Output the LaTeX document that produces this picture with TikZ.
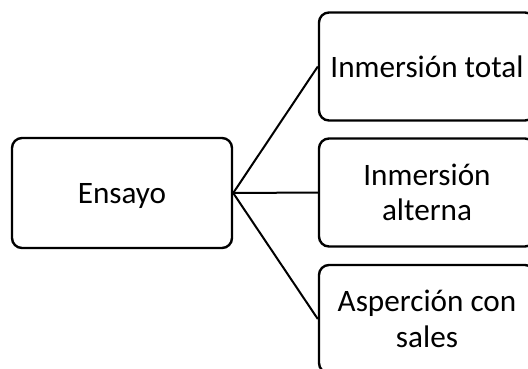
\documentclass[tikz,border=0pt]{standalone}
\usepackage{fontspec}
\setmainfont{Carlito}
\begin{document}
\begin{tikzpicture}[x=1pt,y=-1pt,
  box/.style={draw=black, line width=2.4pt, rounded corners=10pt, fill=white,
    align=center, inner sep=0pt, font=\fontsize{31.2}{35.5}\selectfont},
  leftbox/.style={box, minimum width=220pt, minimum height=110pt},
  rightbox/.style={box, minimum width=216pt, minimum height=108pt},
  link/.style={draw=black, line width=2pt}]
  \useasboundingbox (0,0) rectangle (528,368);
  \clip (0,0) rectangle (528,368);
  % central topic
  \node[leftbox, text depth=0pt] (ensayo) at (122,193) {Ensayo};
  % branches
  \node[rightbox] (total) at (427,66.5) {Inmersión total};
  \node[rightbox] (alterna) at (427,192.5) {Inmersión\\alterna};
  \node[rightbox] (sales) at (427,319) {Asperción con\\sales};
  % connectors
  \draw[link] (ensayo.east) -- (total.west);
  \draw[link] (ensayo.east) -- (alterna.west);
  \draw[link] (ensayo.east) -- (sales.west);
\end{tikzpicture}
\end{document}
